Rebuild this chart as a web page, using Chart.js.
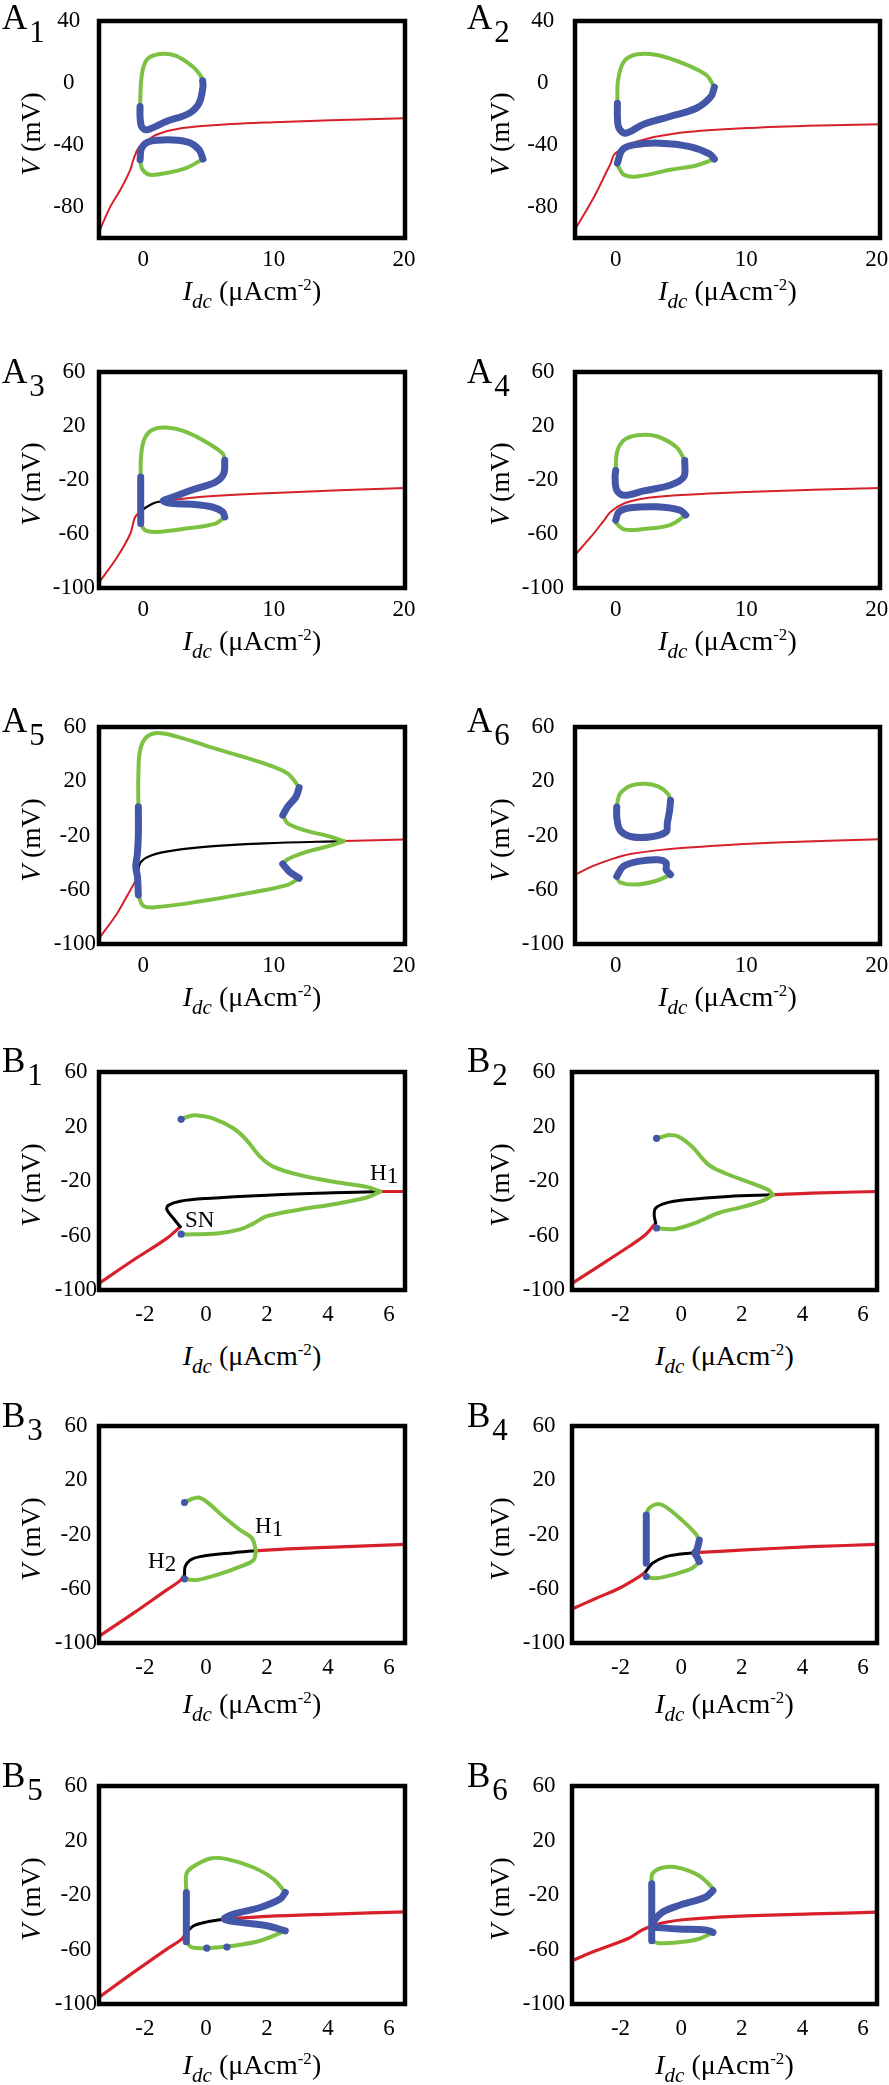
<!DOCTYPE html>
<html>
<head>
<meta charset="utf-8">
<script src="https://cdn.jsdelivr.net/npm/chart.js@4.4.0/dist/chart.umd.min.js"></script>
<style>
  body { margin: 0; background: #fff; }
  #fig { position: relative; width: 889px; height: 2085px; overflow: hidden;
         font-family: "Liberation Serif", "Times New Roman", serif; color: #000; }
  #fig canvas { position: absolute; }
  .plab { position: absolute; font-size: 35px; line-height: 1; white-space: nowrap; }
  .plab span { position: relative; top: 13px; font-size: 31px; margin-left: 2px; }
  .ytitle { position: absolute; font-size: 27.5px; line-height: 1; white-space: nowrap;
            transform: translate(-50%, -50%) rotate(-90deg); }
  .xtitle { position: absolute; font-size: 28px; line-height: 1; white-space: nowrap;
            transform: translateX(-50%); }
  .xtitle .sub { font-size: 21px; font-style: italic; position: relative; top: 8px; }
  .xtitle .sup { font-size: 17px; position: relative; top: -10px; }
  .note { position: absolute; font-size: 23px; line-height: 1; white-space: nowrap; }
  .note span { position: relative; top: 3px; }
</style>
</head>
<body>
<div id="fig"></div>
<script>
// ---- data: [I_dc, V] pairs ----
const a1Red = [[-3.4,-96],[-2.52,-79.6],[-1.76,-68.9],[-1.0,-56],[-0.76,-49.5],[-0.38,-42],[0.25,-37.7],[1.0,-33.4],[3.0,-29.1],[6.8,-26.5],[10,-25.3],[14.4,-24],[20.1,-22.7]];
const a1UpGreen = [[-0.25,-15.2],[-0.13,4.1],[0.25,14.9],[1.26,18.7],[2.52,17.5],[3.78,10.6],[4.41,4.5],[4.55,1.5]];
const a1UpBlue = [[4.55,1.5],[4.58,-2.3],[4.28,-13.0],[3.53,-19.5],[1.76,-24.8],[0.25,-30.2],[-0.13,-28.1],[-0.25,-21.6],[-0.25,-15.2]];
const a1LoBlue = [[-0.25,-49.5],[-0.13,-42.0],[0.5,-37.7],[2.27,-36.7],[3.53,-38.4],[4.28,-43.1],[4.58,-49.1]];
const a1LoGreen = [[4.58,-49.1],[3.27,-54.9],[1.76,-58.1],[0.5,-59.2],[-0.05,-56.0],[-0.25,-50.6]];

const a2Red = [[-3.12,-94.6],[-1.64,-73.2],[-0.63,-56],[-0.38,-51.7],[-0.13,-46.3],[0.38,-43.1],[1.64,-37.7],[4.66,-32.4],[10,-29.1],[14.7,-27.6],[20.3,-26.6]];
const a2UpGreen = [[0.13,-13.0],[0.18,2.0],[0.63,13.8],[1.64,18.5],[3.15,18.1],[5.16,12.7],[6.93,5.2],[7.56,-2.7]];
const a2UpBlue = [[7.56,-2.7],[7.3,-8.7],[6.17,-16.3],[4.16,-21.6],[2.14,-26.6],[0.76,-32.4],[0.25,-29.1],[0.13,-21.6],[0.13,-13.0]];
const a2LoBlue = [[0.13,-51.7],[0.5,-43.1],[1.39,-39.9],[3.4,-38.8],[5.67,-41.0],[7.18,-45.7],[7.56,-49.1]];
const a2LoGreen = [[7.56,-49.1],[6.17,-53.2],[4.16,-56.0],[1.64,-60.3],[0.63,-59.2],[0.13,-52.8]];

const a3Red1 = [[-3.4,-96],[-2.0,-77],[-1.0,-59.8],[-0.63,-47.4],[-0.25,-43.7]];
const a3Black = [[-0.25,-43.7],[0.25,-40],[0.88,-36.8],[1.64,-35.6]];
const a3Red2 = [[1.64,-35.6],[4.28,-32.6],[10,-29.6],[20.1,-25.9]];
const a3Green1 = [[-0.2,-17.8],[-0.18,-3.0],[0.05,9.4],[0.63,16.8],[1.76,18.8],[3.27,15.6],[5.04,6.9],[6.1,-0.5],[6.25,-5.4]];
const a3Blue1 = [[6.25,-5.4],[6.17,-15.3],[5.54,-21.5],[3.78,-27.2],[2.27,-32.6],[1.51,-35.6],[2.27,-37.5],[3.78,-38.0],[5.29,-40.0],[6.1,-43.7],[6.25,-47.4]];
const a3Green2 = [[6.25,-47.4],[5.54,-52.3],[3.27,-56.0],[1.0,-58.5],[0.13,-57.3],[-0.2,-52.3]];
const a3Blue2 = [[-0.2,-52.3],[-0.2,-35],[-0.2,-17.8]];

const a4Red = [[-3.12,-75.5],[-1.89,-62],[-0.88,-49.7],[-0.38,-43.6],[0.63,-37.4],[2.14,-33.7],[4.66,-31.3],[10,-28.8],[20.3,-25.9]];
const a4UpGreen = [[0,-12.9],[0.13,1.8],[0.76,10.4],[1.89,13.4],[3.15,12.4],[4.66,4.3],[5.29,-5.5]];
const a4UpBlue = [[5.29,-5.5],[5.21,-17.8],[4.16,-23.9],[2.14,-28.1],[0.63,-31.3],[0.08,-27.6],[-0.05,-17.8],[0,-12.9]];
const a4LoBlue = [[0,-49.7],[0.25,-43.6],[1.13,-40.6],[3.15,-39.9],[4.91,-42.3],[5.37,-46.0]];
const a4LoGreen = [[5.37,-46.0],[4.16,-53.4],[2.14,-56.3],[0.63,-56.6],[0,-51.7]];

const a5Red1 = [[-3.4,-96],[-2.0,-77.3],[-1.13,-62.5],[-0.63,-54],[-0.45,-50.3]];
const a5Black = [[-0.45,-50.3],[-0.25,-40.5],[0.38,-35.6],[1.76,-31.9],[4.28,-28.7],[9.32,-25.8],[15.4,-24.1]];
const a5Red2 = [[15.4,-24.1],[20.1,-22.9]];
const a5Green1 = [[-0.38,1.2],[-0.38,23.2],[-0.25,42.8],[0.25,52.6],[1.13,55.6],[2.52,53.1],[5.54,44.1],[9.32,33.0],[11.08,25.7],[11.96,15.4]];
const a5Blue1 = [[11.96,15.4],[11.71,8.5],[11.08,1.2],[10.7,-5.0]];
const a5Green2 = [[10.7,-5.0],[11.08,-11.1],[12.34,-16],[14.36,-20.9],[15.4,-24.1]];
const a5Green3 = [[15.4,-24.1],[14.36,-27.5],[12.34,-32.6],[11.08,-37.5],[10.7,-41]];
const a5Blue2 = [[10.7,-41.0],[11.2,-46.6],[11.96,-51.5]];
const a5Green4 = [[11.96,-51.5],[11.08,-56.4],[8.06,-62.5],[4.28,-68.7],[1.0,-72.8],[0,-71.9],[-0.38,-63.8]];
const a5Blue3 = [[-0.38,-63.8],[-0.45,-50.3],[-0.58,-42.9],[-0.45,-33.1],[-0.38,-18.4],[-0.38,1.2]];

const a6Red = [[-3.12,-48.9],[-1.82,-42.8],[-0.3,-37.4],[1.22,-33.5],[3.49,-30.6],[7.29,-27.7],[12.35,-25.2],[20.3,-22.8]];
const a6UpGreen = [[0.08,1.1],[0.33,10.8],[1.22,16.9],[2.23,18.1],[3.24,16.2],[4.0,10.8],[4.2,5.9]];
const a6UpBlue = [[4.2,5.9],[4.13,-1.4],[3.95,-11.1],[3.87,-17.2],[2.73,-20.9],[1.22,-20.9],[0.33,-16.0],[0.08,-6.2],[0.08,1.1]];
const a6LoBlue = [[0.08,-50.1],[0.58,-42.8],[1.72,-39.1],[3.24,-37.9],[3.87,-40.3],[3.87,-45.2],[4.2,-48.9]];
const a6LoGreen = [[4.2,-48.9],[2.99,-53.7],[1.47,-56.2],[0.33,-54.5],[0.08,-50.6]];

const b1Red1 = [[-3.5,-95.1],[-2.37,-78],[-1.28,-62.1],[-0.84,-53.6]];
const b1Black = [[-0.84,-53.6],[-1.06,-47.5],[-1.28,-40.9],[-1.22,-37.7],[-0.84,-34.8],[0.03,-32.8],[2.0,-30.4],[4.18,-28.7],[5.71,-27.7]];
const b1Red2 = [[5.71,-27.7],[6.55,-27.7]];
const b1GreenUp = [[-0.81,25.3],[-0.62,27.0],[-0.35,28.2],[0.25,25.8],[0.91,18.5],[1.34,9.9],[1.78,-2.3],[2.22,-9.6],[3.09,-15.7],[4.18,-20.6],[5.27,-24.3],[5.71,-27.7]];
const b1GreenLo = [[5.71,-27.7],[5.27,-32.1],[4.18,-37],[3.09,-40.9],[2.0,-45.8],[1.56,-51.1],[1.12,-55.5],[0.36,-58.5],[-0.6,-59.2],[-0.81,-59.0]];
const b1Dots = [[-0.81,25.3],[-0.81,-59.0]];

const b2Red1 = [[-3.6,-95.1],[-2.8,-83.7],[-1.71,-67.9],[-1.17,-59.3],[-0.84,-50.8]];
const b2Black = [[-0.84,-50.8],[-0.89,-44.7],[-0.84,-39.9],[-0.51,-36.2],[0.14,-33.8],[1.56,-31.3],[3.03,-30.1]];
const b2Red2 = [[3.03,-30.1],[4.29,-28.9],[6.5,-27.7]];
const b2GreenUp = [[-0.81,11.3],[-0.62,12.5],[-0.4,13.7],[-0.08,12.5],[0.36,5.2],[0.91,-8.2],[1.45,-14.3],[2.32,-21.6],[2.87,-26.5],[3.03,-30.1]];
const b2GreenLo = [[3.03,-30.1],[2.76,-33.8],[2.1,-38.6],[1.23,-43.5],[0.47,-50.8],[-0.19,-55.2],[-0.62,-55.0],[-0.81,-54.5]];
const b2Dots = [[-0.81,11.3],[-0.81,-54.5]];

const b3Red1 = [[-3.5,-95.1],[-2.37,-78],[-1.28,-60.8],[-0.84,-54.0],[-0.7,-49.8]];
const b3Black = [[-0.7,-49.8],[-0.68,-43.7],[-0.51,-38.8],[-0.19,-36.3],[0.91,-33.4],[1.64,-31.9]];
const b3Red2 = [[1.64,-31.9],[3.09,-30.2],[6.55,-27.3]];
const b3GreenUp = [[-0.7,3.6],[-0.51,5.8],[-0.24,7.3],[0.03,4.1],[0.58,-6.9],[1.12,-16.7],[1.51,-22.8],[1.64,-31.9]];
const b3GreenLo = [[1.64,-31.9],[1.56,-38.8],[1.12,-43.7],[0.36,-49.8],[-0.29,-53.5],[-0.7,-52.7]];
const b3Dots = [[-0.7,3.6],[-0.7,-52.7]];

const b4Red1 = [[-3.6,-75],[-2.8,-67],[-2.04,-59.6],[-1.38,-51.0],[-1.17,-47.4]];
const b4Black = [[-1.17,-47.4],[-0.95,-41.2],[-0.51,-36.3],[-0.08,-34.6],[0.45,-33.4]];
const b4Red2 = [[0.45,-33.4],[2.1,-31.4],[4.29,-29],[6.5,-27.3]];
const b4GreenUp = [[-1.15,-5.7],[-1.06,-0.8],[-0.79,2.4],[-0.51,0.4],[0.03,-9.4],[0.47,-19.2],[0.6,-24.1]];
const b4BlueR = [[0.6,-24.1],[0.52,-31.4],[0.45,-33.4],[0.52,-36.3],[0.6,-40]];
const b4GreenLo = [[0.6,-40],[0.36,-44.9],[-0.29,-49.8],[-0.84,-52.3],[-1.11,-51.5]];
const b4BlueL = [[-1.15,-41.2],[-1.15,-23],[-1.15,-5.7]];
const b4Dots = [[-1.15,-51.0]];

const b5Red1 = [[-3.5,-95.1],[-2.37,-76.8],[-1.28,-59.7],[-0.79,-52.4],[-0.64,-47.5]];
const b5Black = [[-0.64,-47.5],[-0.4,-42.6],[0.03,-39.7],[0.6,-37.7]];
const b5Red2 = [[0.6,-37.7],[2.0,-35.7],[4.18,-34],[6.55,-32.3]];
const b5GreenUp = [[-0.64,-18.2],[-0.64,-4.7],[-0.46,0.2],[0.14,6.8],[0.69,6.3],[1.56,0.2],[2.22,-8.4],[2.6,-18.2]];
const b5Blue = [[2.6,-18.2],[2.43,-23.0],[1.78,-29.2],[0.91,-34],[0.6,-37.7],[1.12,-40.1],[2.0,-42.6],[2.6,-46.3]];
const b5GreenLo = [[2.6,-46.3],[1.78,-53.6],[0.91,-57.2],[0.03,-59.0],[-0.46,-58.5],[-0.64,-54.3]];
const b5BlueL = [[-0.64,-54.3],[-0.64,-40],[-0.64,-18.2]];
const b5Dots = [[0.03,-59.0],[0.69,-58.2]];

const b6Red = [[-3.6,-68.2],[-2.8,-60.8],[-1.71,-51.5],[-1.28,-45.6],[-0.95,-42.5],[-0.51,-40.0],[0.14,-38.0],[1.56,-35.8],[4.29,-33.9],[6.5,-32.6]];
const b6GreenUp = [[-0.97,-11.8],[-0.95,-4.5],[-0.62,0],[-0.08,0],[0.58,-5.7],[1.01,-14.3],[1.05,-16.7]];
const b6BlueUp = [[1.05,-16.7],[0.8,-21.6],[-0.08,-27.7],[-0.62,-32.6],[-0.89,-38.8],[-0.95,-43.7]];
const b6BlueLo = [[-0.95,-43.7],[-0.08,-44.9],[0.8,-45.6],[1.05,-47.4]];
const b6GreenLo = [[1.05,-47.4],[0.58,-52.3],[-0.08,-54.7],[-0.73,-55.4],[-0.97,-53.5]];
const b6BlueL = [[-0.97,-53.5],[-0.97,-30],[-0.97,-11.8]];

// tick values
const xTicksA = [0, 10, 20];
const xTicksB = [-2, 0, 2, 4, 6];
const yTicksTop = [-80, -40, 0, 40];
const yTicks = [-100, -60, -20, 20, 60];

// x ranges per column (the right-hand panels sit a little differently)
const XR = {
  A: [[-3.4, 20.08], [-3.12, 20.25]],
  B: [[-3.5, 6.52], [-3.6, 6.46]],
};

// ---- panel layout ----
const panels = [
  { lab: ['A','1'], box: [99, 21, 405, 238],  labBase: 29,   kind: 'A', yMax: 40, yt: yTicksTop, yPad: 15,
    series: [['red', a1Red], ['green', a1UpGreen], ['blue', a1UpBlue], ['blue', a1LoBlue], ['green', a1LoGreen]] },
  { lab: ['A','2'], box: [575, 21, 880, 238], labBase: 29,   kind: 'A', yMax: 40, yt: yTicksTop, yPad: 17,
    series: [['red', a2Red], ['green', a2UpGreen], ['blue', a2UpBlue], ['blue', a2LoBlue], ['green', a2LoGreen]] },
  { lab: ['A','3'], box: [99, 372, 405, 588], labBase: 383,  kind: 'A', yMax: 60, yt: yTicks, yPad: 4,
    series: [['red', a3Red1], ['black', a3Black], ['red', a3Red2], ['green', a3Green1], ['blue', a3Blue1], ['green', a3Green2], ['blue', a3Blue2]] },
  { lab: ['A','4'], box: [575, 372, 880, 588], labBase: 383, kind: 'A', yMax: 60, yt: yTicks, yPad: 11,
    series: [['red', a4Red], ['green', a4UpGreen], ['blue', a4UpBlue], ['blue', a4LoBlue], ['green', a4LoGreen]] },
  { lab: ['A','5'], box: [99, 727, 405, 944], labBase: 732,  kind: 'A', yMax: 60, yt: yTicks, yPad: 3,
    series: [['red', a5Red1], ['black', a5Black], ['red', a5Red2], ['green', a5Green1], ['blue', a5Blue1], ['green', a5Green2],
             ['green', a5Green3], ['blue', a5Blue2], ['green', a5Green4], ['blue', a5Blue3]] },
  { lab: ['A','6'], box: [575, 727, 880, 944], labBase: 732, kind: 'A', yMax: 60, yt: yTicks, yPad: 11,
    series: [['red', a6Red], ['green', a6UpGreen], ['blue', a6UpBlue], ['blue', a6LoBlue], ['green', a6LoGreen]] },
  { lab: ['B','1'], box: [99, 1072, 405, 1290], labBase: 1072, kind: 'B', yMax: 60, yt: yTicks, yPad: 2, tGap: 75,
    series: [['red', b1Red1], ['black', b1Black], ['red', b1Red2], ['green', b1GreenUp], ['green', b1GreenLo], ['dots', b1Dots]] },
  { lab: ['B','2'], box: [572, 1072, 877, 1290], labBase: 1072, kind: 'B', yMax: 60, yt: yTicks, yPad: 7, tGap: 75,
    series: [['red', b2Red1], ['black', b2Black], ['red', b2Red2], ['green', b2GreenUp], ['green', b2GreenLo], ['dots', b2Dots]] },
  { lab: ['B','3'], box: [99, 1426, 405, 1643], labBase: 1427, kind: 'B', yMax: 60, yt: yTicks, yPad: 2,
    series: [['red', b3Red1], ['black', b3Black], ['red', b3Red2], ['green', b3GreenUp], ['green', b3GreenLo], ['dots', b3Dots]] },
  { lab: ['B','4'], box: [572, 1426, 877, 1643], labBase: 1427, kind: 'B', yMax: 60, yt: yTicks, yPad: 7,
    series: [['red', b4Red1], ['black', b4Black], ['red', b4Red2], ['green', b4GreenUp], ['blue', b4BlueR], ['green', b4GreenLo],
             ['blue', b4BlueL], ['dots', b4Dots]] },
  { lab: ['B','5'], box: [99, 1786, 405, 2004], labBase: 1787, kind: 'B', yMax: 60, yt: yTicks, yPad: 2,
    series: [['red', b5Red1], ['black', b5Black], ['red', b5Red2], ['green', b5GreenUp], ['blue', b5Blue], ['green', b5GreenLo],
             ['blue', b5BlueL], ['dots', b5Dots]] },
  { lab: ['B','6'], box: [572, 1786, 877, 2004], labBase: 1787, kind: 'B', yMax: 60, yt: yTicks, yPad: 7,
    series: [['red', b6Red], ['green', b6GreenUp], ['blue', b6BlueUp], ['blue', b6BlueLo], ['green', b6GreenLo], ['blue', b6BlueL]] },
];

const notes = [
  ['H', '1', 370, 1180],
  ['SN', '', 185, 1227],
  ['H', '1', 255, 1533],
  ['H', '2', 148, 1568],
];

Chart.defaults.font.family = '"Liberation Serif", "Times New Roman", serif';
Chart.defaults.font.size = 23;
Chart.defaults.color = '#000';

const STYLE = {
  red:   { color: '#d7202a', order: 4 },
  black: { color: '#000000', order: 3 },
  green: { color: '#7cc142', width: 4, order: 2 },
  blue:  { color: '#4356a8', width: 7, order: 1 },
  dots:  { color: '#4356a8', order: 0 },
};

const frame = {
  id: 'frame',
  afterDatasetsDraw(chart) {
    const { ctx, chartArea: a } = chart;
    ctx.save();
    ctx.lineWidth = 4.5;
    ctx.strokeStyle = '#000';
    ctx.strokeRect(a.left, a.top, a.right - a.left, a.bottom - a.top);
    ctx.restore();
  }
};

function makeSet(kind, pts, isB) {
  const s = STYLE[kind];
  const d = { data: pts.map(([x, y]) => ({ x, y })), order: s.order, borderColor: s.color, backgroundColor: s.color };
  if (kind === 'dots') return { ...d, showLine: false, pointRadius: 3.6, pointBorderWidth: 0 };
  let w = s.width;
  if (kind === 'red') w = isB ? 3.2 : 2;
  if (kind === 'black') w = isB ? 3 : 2.2;
  return { ...d, showLine: true, borderWidth: w, pointRadius: 0, tension: 0.35,
           borderCapStyle: 'round', borderJoinStyle: 'round' };
}

const fig = document.getElementById('fig');

function addText(html, cls, x, y) {
  const el = document.createElement('div');
  el.className = cls;
  el.innerHTML = html;
  el.style.left = x + 'px';
  el.style.top = y + 'px';
  fig.appendChild(el);
}

panels.forEach(p => {
  const [l, t, r, b] = p.box;
  const isB = p.kind === 'B';
  const colX = l < 444 ? 0 : 444;
  const W = colX ? 445 : 444;
  const padTop = 20, boxH = b - t;
  const H = boxH + padTop + 50;
  const [xMin, xMax] = XR[p.kind][colX ? 1 : 0];

  const cv = document.createElement('canvas');
  cv.width = W; cv.height = H;
  cv.style.left = colX + 'px';
  cv.style.top = (t - padTop) + 'px';
  fig.appendChild(cv);

  const xt = isB ? xTicksB : xTicksA;
  new Chart(cv, {
    type: 'scatter',
    data: { datasets: p.series.map(([k, pts]) => makeSet(k, pts, isB)) },
    options: {
      responsive: false,
      animation: false,
      events: [],
      layout: { padding: { top: padTop, left: 0, bottom: 0, right: W - (r - colX) } },
      plugins: { legend: { display: false }, tooltip: { enabled: false } },
      scales: {
        x: {
          type: 'linear',
          min: xMin,
          max: xMax,
          afterBuildTicks: s => { s.ticks = xt.map(v => ({ value: v })); },
          afterFit: s => { s.height = H - padTop - boxH; s.paddingLeft = 0; s.paddingRight = 0; },
          grid: { display: false, drawTicks: false },
          border: { display: false },
          ticks: { padding: isB ? 11 : 8, maxRotation: 0, autoSkip: false, color: '#000' },
        },
        y: {
          type: 'linear',
          min: -100,
          max: p.yMax,
          afterBuildTicks: s => { s.ticks = p.yt.map(v => ({ value: v })); },
          afterFit: s => { s.width = l - colX; s.paddingTop = 0; s.paddingBottom = 0; },
          grid: { display: false, drawTicks: false },
          border: { display: false },
          ticks: { padding: p.yPad, crossAlign: 'center', autoSkip: false, color: '#000' },
        }
      }
    },
    plugins: [frame]
  });

  // panel label
  addText(`${p.lab[0]}<span>${p.lab[1]}</span>`, 'plab', colX ? 467 : 2, p.labBase - 29.3);
  // y title
  addText('<i>V</i> (mV)', 'ytitle', colX ? 499.5 : 30.5, (t + b) / 2 + 4);
  // x title
  const gap = p.tGap || (isB ? 70 : 62);
  addText('<i>I</i><span class="sub">dc</span> (μAcm<span class="sup">-2</span>)', 'xtitle', (l + r) / 2, b + gap - 23.5);
});

notes.forEach(([txt, sub, x, base]) => {
  addText(`${txt}<span>${sub}</span>`, 'note', x, base - 19.3);
});
</script>
</body>
</html>
